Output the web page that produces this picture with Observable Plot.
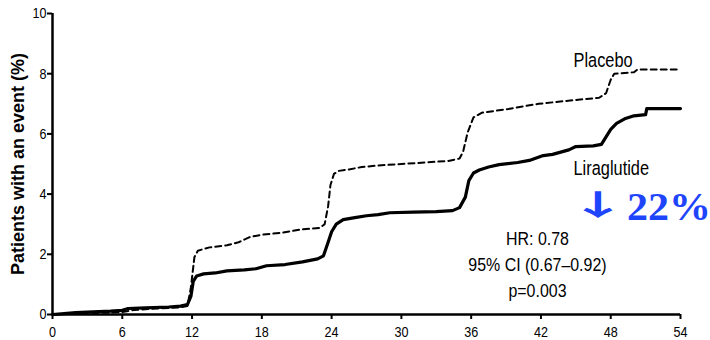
<!DOCTYPE html>
<html>
<head>
<meta charset="utf-8">
<script src="https://cdn.jsdelivr.net/npm/d3@7"></script>
<script src="https://cdn.jsdelivr.net/npm/@observablehq/plot@0.6"></script>
<style>
  html, body { margin: 0; padding: 0; background: #fff; }
</style>
</head>
<body>
<div id="chart"></div>
<script>
// ---- data ----
const xTicks = [0, 6, 12, 18, 24, 30, 36, 42, 48, 54];
const yTicks = [0, 2, 4, 6, 8, 10];

const liraMonths = [0,1,2,3,4,5,6,6.5,8,10,11,11.6,11.9,12.1,12.4,13,14,15,16.5,17.5,18.4,20,21.5,22.8,23.3,23.7,24,24.4,25,26,27,28,29,31,33,34.4,35,35.5,35.8,36.2,36.7,37.5,38.4,40,41,42.2,43,44.4,45,46.5,47.2,47.6,48,48.5,49.2,50,51,51.1,54];
const liraValues = [0,0.03,0.06,0.08,0.1,0.11,0.14,0.2,0.22,0.25,0.28,0.33,0.6,1.1,1.28,1.35,1.38,1.45,1.48,1.52,1.62,1.66,1.75,1.85,1.95,2.4,2.75,3.0,3.15,3.22,3.28,3.32,3.38,3.4,3.42,3.45,3.55,3.9,4.45,4.7,4.8,4.9,4.98,5.05,5.12,5.28,5.32,5.47,5.58,5.6,5.65,5.9,6.15,6.35,6.5,6.6,6.64,6.84,6.84];

const placMonths = [0,2,4,6,7,9,11,11.6,11.9,12.2,12.5,13.5,15,16,17,18,19.8,21.3,23,23.4,23.7,23.9,24.2,24.6,25.5,26.6,28,30,32,34,35,35.3,35.7,36.2,36.9,39.2,41.8,44.8,47,47.6,48,48.3,50,50.3,54];
const placValues = [0,0.03,0.05,0.08,0.15,0.2,0.24,0.28,0.9,1.9,2.12,2.23,2.3,2.4,2.58,2.65,2.72,2.82,2.88,3.0,3.6,4.3,4.67,4.77,4.82,4.9,4.95,5.0,5.05,5.1,5.18,5.4,6.05,6.55,6.7,6.83,7.0,7.12,7.2,7.35,7.8,8.0,8.05,8.14,8.14];

const statsLines = ["HR: 0.78", "95% CI (0.67–0.92)", "p=0.003"];

const lira = liraMonths.map((m, i) => ({month: m, pct: liraValues[i]}));
const plac = placMonths.map((m, i) => ({month: m, pct: placValues[i]}));

const blue = "#1f45fc";

const chart = Plot.plot({
  width: 710,
  height: 340,
  marginLeft: 52,
  marginRight: 30,
  marginTop: 13,
  marginBottom: 26,
  style: {fontFamily: "'Liberation Sans', Arial, sans-serif", fontSize: "15px", background: "#fff", color: "#000"},
  x: {domain: [0, 54]},
  y: {domain: [0, 10]},
  marks: [
    Plot.axisX({ticks: xTicks, tickSize: 5, tickPadding: 7, strokeWidth: 2, fontSize: 15, label: null, tickFormat: d => String(d)}),
    Plot.axisY({ticks: yTicks, tickSize: 5, tickPadding: 1, strokeWidth: 2, fontSize: 15, label: null, tickFormat: d => String(d)}),
    Plot.ruleY([0], {strokeWidth: 2.5, stroke: "#000"}),
    Plot.ruleX([0], {strokeWidth: 2.5, stroke: "#000"}),
    Plot.line(plac, {x: "month", y: "pct", stroke: "#000", strokeWidth: 2, strokeDasharray: "6,4"}),
    Plot.line(lira, {x: "month", y: "pct", stroke: "#000", strokeWidth: 3.2}),
    Plot.text(["Placebo"], {x: 44.8, y: 8.44, text: d => d, textAnchor: "start", fontSize: 19.5, fill: "#000"}),
    Plot.text(["Liraglutide"], {x: 44.8, y: 4.85, text: d => d, textAnchor: "start", fontSize: 19.5, fill: "#000"}),
    Plot.text(statsLines, {x: 41.7, y: (d, i) => 2.52 - i * 0.86, text: d => d, textAnchor: "middle", fontSize: 19, fill: "#000"}),
    Plot.text(["↓"], {x: 46.9, y: 3.58, text: d => d, textAnchor: "middle", fontSize: 29, fontWeight: "bold", fontFamily: "'Noto Sans CJK SC', 'DejaVu Sans', sans-serif", fill: blue, className: "arrowtxt"}),
    Plot.text(["22%"], {x: 49.4, y: 3.57, text: d => d, textAnchor: "start", fontSize: 40, fontWeight: "bold", fontFamily: "'Liberation Serif', 'DejaVu Serif', serif", fill: blue, className: "bigpct"}),
    Plot.text(["Patients with an event (%)"], {frameAnchor: "left", dx: -34, rotate: -90, textAnchor: "middle", text: d => d, fontSize: 18, fontWeight: "bold", fill: "#000", className: "ylab"})
  ]
});

document.getElementById("chart").append(chart);

// Reference text is horizontally condensed; squeeze glyphs around their anchor.
chart.querySelectorAll("text").forEach(t => {
  if (t.closest(".ylab")) return;
  const bb = t.getBBox();
  if (!(bb.width > 0)) return;
  let s = 0.84;
  if (t.closest(".bigpct")) s = 1.05;
  if (t.closest(".arrowtxt")) s = 2.1;   // broad chevron arrow as in the reference
  const anchor = getComputedStyle(t).textAnchor;
  const ax = anchor === "middle" ? bb.x + bb.width / 2 : anchor === "end" ? bb.x + bb.width : bb.x;
  const prev = t.getAttribute("transform") || "";
  t.setAttribute("transform", `${prev} translate(${ax},0) scale(${s},1) translate(${-ax},0)`.trim());
});
</script>
</body>
</html>
